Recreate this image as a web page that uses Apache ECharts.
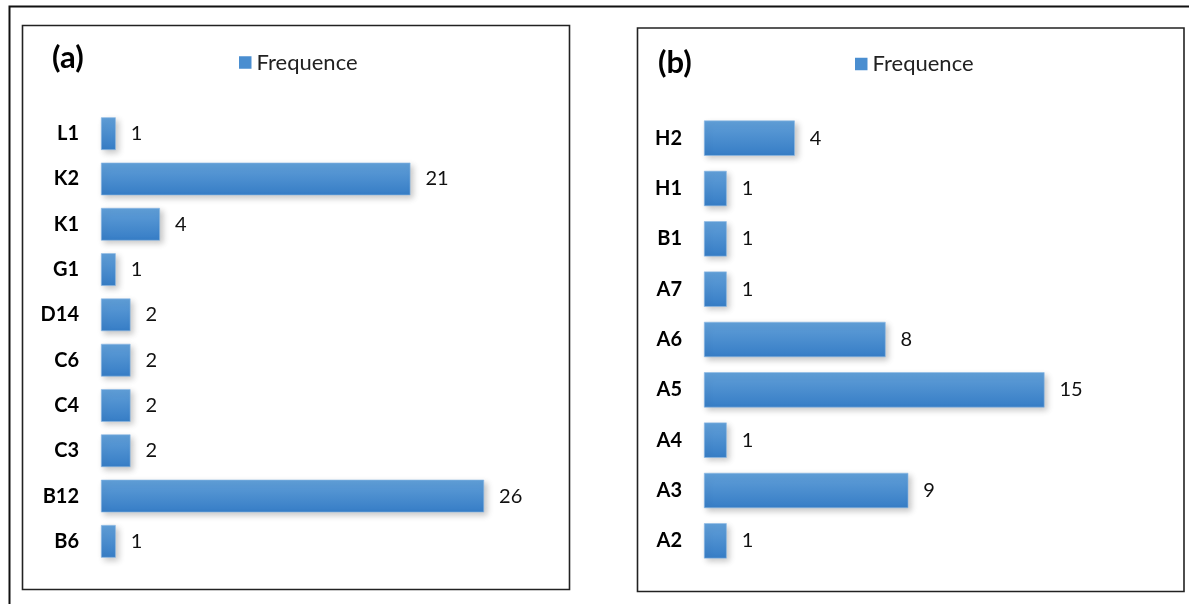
<!DOCTYPE html>
<html>
<head>
<meta charset="utf-8">
<script src="https://cdn.jsdelivr.net/npm/echarts@6/dist/echarts.min.js"></script>
<style>
html,body{margin:0;padding:0;background:#fff;}
#c{width:1189px;height:604px;}
</style>
</head>
<body>
<div id="c"></div>
<script>
// Panel (a)
const catsA = ['L1','K2','K1','G1','D14','C6','C4','C3','B12','B6'];
const valsA = [1,21,4,1,2,2,2,2,26,1];
// Panel (b)
const catsB = ['H2','H1','B1','A7','A6','A5','A4','A3','A2'];
const valsB = [4,1,1,1,8,15,1,9,1];
const seriesName = 'Frequence';
const titleA = '(a)';
const titleB = '(b)';

const FONT = 'Lato, "Open Sans", "Liberation Sans", sans-serif';
const barColor = {
  type:'linear', x:0, y:0, x2:0, y2:1,
  colorStops:[{offset:0,color:'#619fd8'},{offset:1,color:'#367dc6'}]
};
const barStyle = {
  color: barColor,
  borderColor:'#8dbbe6', borderWidth:0.6,
  shadowBlur:6, shadowOffsetX:3, shadowOffsetY:3, shadowColor:'rgba(0,0,0,0.22)'
};
function yAxis(idx, cats){
  return {
    type:'category', gridIndex:idx, data:cats, inverse:true,
    axisLine:{show:false}, axisTick:{show:false}, splitLine:{show:false},
    axisLabel:{margin:22, fontSize:20, fontWeight:'bold', color:'#000', fontFamily:FONT}
  };
}
function xAxis(idx, max){
  return {type:'value', gridIndex:idx, min:0, max:max, show:false, splitLine:{show:false}};
}
function series(idx, vals, w){
  return {
    name:seriesName, type:'bar', xAxisIndex:idx, yAxisIndex:idx, data:vals,
    barWidth:w, itemStyle:barStyle,
    label:{show:true, position:'right', distance:15, fontSize:20, color:'#111', fontFamily:FONT}
  };
}
const legendBase = {
  data:[seriesName], padding:0, itemWidth:12.5, itemHeight:12.5, icon:'rect',
  itemStyle:{color:'#4a8ed0', borderWidth:0, shadowBlur:0},
  textStyle:{fontSize:22, color:'#222', fontFamily:FONT, lineHeight:22}
};
const chart = echarts.init(document.getElementById('c'), null, {renderer:'canvas'});
chart.setOption({
  animation:false,
  backgroundColor:'#fff',
  legend:[
    Object.assign({left:239, top:51.5}, legendBase),
    Object.assign({left:855, top:53}, legendBase)
  ],
  grid:[
    {left:101, top:111, width:442, height:453, containLabel:false},
    {left:704, top:113, width:454, height:453, containLabel:false}
  ],
  xAxis:[xAxis(0,30), xAxis(1,20)],
  yAxis:[yAxis(0,catsA), yAxis(1,catsB)],
  series:[series(0,valsA,'72%'), series(1,valsB,'70%')],
  graphic:[
    {type:'rect', shape:{x:9.5, y:6.5, width:1300, height:700}, style:{fill:'none', stroke:'#111', lineWidth:2}, silent:true},
    {type:'rect', shape:{x:22.5, y:25.5, width:547, height:564}, style:{fill:'none', stroke:'#222', lineWidth:1.6}, silent:true},
    {type:'rect', shape:{x:637.5, y:28, width:546.5, height:563.5}, style:{fill:'none', stroke:'#222', lineWidth:1.6}, silent:true},
    {type:'text', left:52, top:42, style:{text:titleA, fontSize:31, fontWeight:'bold', fill:'#000', fontFamily:FONT}, silent:true},
    {type:'text', left:658, top:47, style:{text:titleB, fontSize:31, fontWeight:'bold', fill:'#000', fontFamily:FONT}, silent:true}
  ]
});
</script>
</body>
</html>
